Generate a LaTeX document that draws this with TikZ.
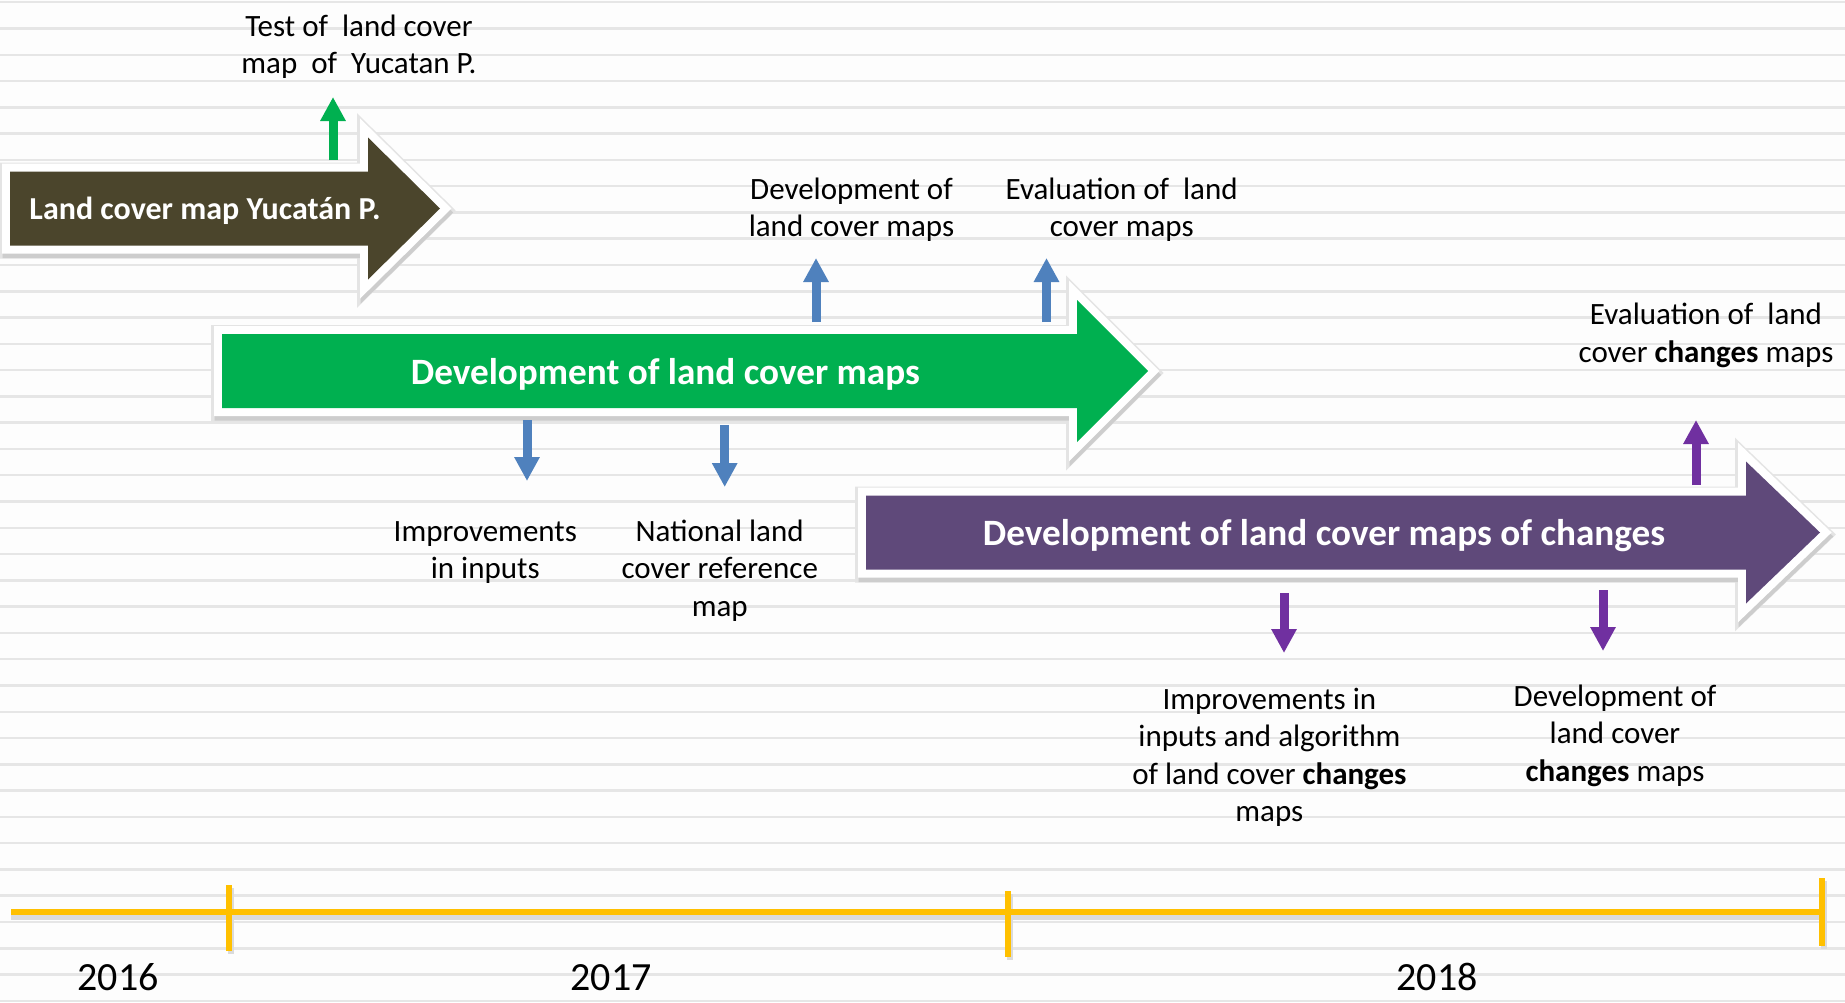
\documentclass[tikz,border=0pt]{standalone}
\usepackage{fontspec}
\setmainfont{Carlito}
\usetikzlibrary{arrows.meta}
\definecolor{olivearr}{HTML}{4B452C}
\definecolor{greenarr}{HTML}{00B050}
\definecolor{purplearr}{HTML}{5F497A}
\definecolor{bluesm}{HTML}{4F81BD}
\definecolor{purplesm}{HTML}{7030A0}
\definecolor{gold}{HTML}{FFC000}
\definecolor{stripe}{HTML}{E6E6E6}
\definecolor{bgc}{HTML}{FDFDFD}
\definecolor{shadowa}{HTML}{E4E4E4}
\definecolor{shadowb}{HTML}{CDCDCD}
\newcommand\bigarrow[5]{% left x, head x, tip x, centre y, colour
  \def\arrpts{(#1,#4-37) -- (#2,#4-37) -- (#2,#4-71) -- (#3,#4) -- (#2,#4+71) -- (#2,#4+37) -- (#1,#4+37) -- cycle}
  \path[fill=shadowa, draw=shadowa, line width=22pt, line join=miter, shift={(0,2)}] \arrpts;
  \path[fill=shadowb, draw=shadowb, line width=17pt, line join=miter, shift={(1,4)}] \arrpts;
  \path[fill=white, draw=white, line width=16pt, line join=miter] \arrpts;
  \path[fill=#5] \arrpts;
}
\begin{document}
\begin{tikzpicture}[x=1pt,y=-1pt,
  lbl/.style={align=center, inner sep=0pt, anchor=north, font=\fontsize{31}{37.5}\selectfont},
  arrtxt/.style={text=white, inner sep=0pt, anchor=base},
  yeartxt/.style={inner sep=0pt, anchor=base, font=\fontsize{40}{48}\selectfont},
  smallarr/.style={line width=9pt, -{Triangle[length=24pt,width=24pt]}},
  tline/.style={gold, line width=6pt},
  ttick/.style={gold, line width=5.5pt},
  tshadow/.style={black!14, line width=6pt}]
\useasboundingbox (0,0) rectangle (1845,1002);
\fill[bgc] (0,0) rectangle (1845,1002);
\foreach \k in {0,...,38} \draw[stripe, line width=2.5pt] (0,{2.2+26.28*\k}) -- (1845,{2.2+26.28*\k});

% big arrows
\bigarrow{10}{368}{440}{208.5}{olivearr}
\bigarrow{222}{1077}{1148}{371}{greenarr}
\bigarrow{866}{1746}{1820}{532.5}{purplearr}

\node[arrtxt, font=\bfseries\fontsize{32}{38}\selectfont] (a1) at (205,219) {Land cover map Yucatán P.};
\node[arrtxt, font=\bfseries\fontsize{37.2}{44}\selectfont] (a2) at (665.4,384) {Development of land cover maps};
\node[arrtxt, font=\bfseries\fontsize{37.2}{44}\selectfont] (a3) at (1324,545) {Development of land cover maps of changes};

% labels
\node[lbl] (test) at (359,9.75) {\strut Test of~ land cover\\map~ of~ Yucatan P.};
\node[lbl] (dev) at (851.5,173) {\strut Development of\\land cover maps};
\node[lbl] (eval) at (1121.7,173) {\strut Evaluation of~ land\\cover maps};
\node[lbl] (evalch) at (1706,298.5) {\strut Evaluation of~ land\\cover \textbf{changes} maps};
\node[lbl] (imp) at (485.3,514.75) {\strut Improvements\\in inputs};
\node[lbl] (nat) at (719.7,514.75) {\strut National land\\cover reference\\map};
\node[lbl] (impch) at (1269.4,683) {\strut Improvements in\\inputs and algorithm\\of land cover \textbf{changes}\\maps};
\node[lbl] (devch) at (1615,680) {\strut Development of\\land cover\\\textbf{changes} maps};

% small arrows
\coordinate (g1s) at (333,160); \coordinate (g1e) at (333,97);
\coordinate (b1s) at (816,322); \coordinate (b1e) at (816,258);
\coordinate (b2s) at (1046.5,322); \coordinate (b2e) at (1046.5,258);
\coordinate (b3s) at (527,420); \coordinate (b3e) at (527,481);
\coordinate (b4s) at (724.7,425); \coordinate (b4e) at (724.7,487);
\coordinate (p1s) at (1696,485); \coordinate (p1e) at (1696,420);
\coordinate (p2s) at (1284,593); \coordinate (p2e) at (1284,653);
\coordinate (p3s) at (1603,590); \coordinate (p3e) at (1603,651);
\draw[smallarr, greenarr] (g1s) -- (g1e);
\draw[smallarr, bluesm] (b1s) -- (b1e);
\draw[smallarr, bluesm] (b2s) -- (b2e);
\draw[smallarr, bluesm] (b3s) -- (b3e);
\draw[smallarr, bluesm] (b4s) -- (b4e);
\draw[smallarr, purplesm] (p1s) -- (p1e);
\draw[smallarr, purplesm] (p2s) -- (p2e);
\draw[smallarr, purplesm] (p3s) -- (p3e);

% timeline
\coordinate (tl) at (11,912); \coordinate (tr) at (1820,912);
\coordinate (t1a) at (229,885); \coordinate (t1b) at (229,951);
\coordinate (t2a) at (1008,891); \coordinate (t2b) at (1008,957);
\coordinate (t3a) at (1822,878); \coordinate (t3b) at (1822,946);
\draw[tshadow] ([yshift=-5pt]tl) -- ([yshift=-5pt]tr);
\draw[tshadow] ([shift={(2pt,-3pt)}]t1a) -- ([shift={(2pt,-3pt)}]t1b);
\draw[tshadow] ([shift={(2pt,-3pt)}]t2a) -- ([shift={(2pt,-3pt)}]t2b);
\draw[tshadow] ([shift={(2pt,-3pt)}]t3a) -- ([shift={(2pt,-3pt)}]t3b);
\draw[tline] (tl) -- (tr);
\draw[ttick] (t1a) -- (t1b);
\draw[ttick] (t2a) -- (t2b);
\draw[ttick] (t3a) -- (t3b);

\node[yeartxt] (y16) at (118,990) {2016};
\node[yeartxt] (y17) at (611,990) {2017};
\node[yeartxt] (y18) at (1437,990) {2018};
\end{tikzpicture}
\end{document}
